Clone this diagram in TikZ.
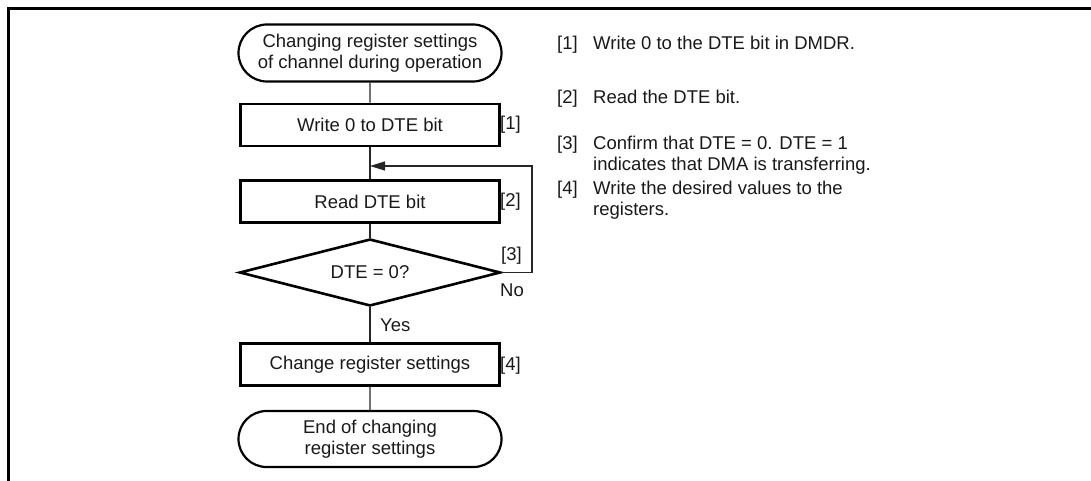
\documentclass[tikz,border=0pt]{standalone}
\usepackage{fontspec}
\setmainfont{Liberation Sans}
\usetikzlibrary{shapes.misc,shapes.geometric,arrows.meta}
\begin{document}
\begin{tikzpicture}[x=1pt,y=-1pt,
  every node/.style={font=\fontsize{18.5}{21}\selectfont, text=black!90},
  term/.style={draw, line width=2.2pt, rounded rectangle, minimum width=263pt, minimum height=57pt, align=center, inner sep=0pt},
  proc/.style={draw, line width=2.6pt, rectangle, minimum width=259pt, minimum height=42pt, inner sep=0pt},
  dec/.style={draw, line width=2.6pt, diamond, aspect=3.9, minimum width=261pt, minimum height=67pt, inner sep=0pt},
  conn/.style={line width=1.2pt, draw=black!85},
  tag/.style={anchor=west, inner sep=0pt},
  note/.style={anchor=base west, inner sep=0pt}
]
\useasboundingbox (0,0) rectangle (1091,481);
\draw[line width=3pt] (8,481) -- (8,9) -- (1091,9);

\node[term] (start) at (370,53) {Changing register settings\\of channel during operation};
\node[proc] (b1) at (370,125) {Write 0 to DTE bit};
\node[proc] (b2) at (370,201.5) {Read DTE bit};
\node[dec] (d) at (370,272.5) {DTE = 0?};
\node[proc] (b3) at (370,364.5) {Change register settings};
\node[term, minimum height=56pt] (end) at (370,439) {End of changing\\register settings};

\coordinate (j) at (370,166);
\coordinate (r1) at (532,272.5);
\coordinate (r2) at (532,166);

\draw[conn] (start) -- (b1);
\draw[conn] (b1) -- (b2);
\draw[conn] (b2) -- (d);
\draw[conn] (d) -- (b3);
\draw[conn] (b3) -- (end);
\draw[conn, -{Triangle[length=15pt,width=9pt]}] (d.east) -- (r1) -- (r2) -- (j);

\node[tag] (t1) at (500,125) {[1]};
\node[tag] (t2) at (500,201.5) {[2]};
\node[tag] (t3) at (501,256) {[3]};
\node[tag] (tno) at (500,290) {No};
\node[tag] (tyes) at (380,325) {Yes};
\node[tag] (t4) at (500,366) {[4]};

\node[note] (n1) at (557,49.5) {[1]};
\node[note] (n1t) at (593,49.5) {Write 0 to the DTE bit in DMDR.};
\node[note] (n2) at (557,103.5) {[2]};
\node[note] (n2t) at (593,103.5) {Read the DTE bit.};
\node[note] (n3) at (557,149.5) {[3]};
\node[note] (n3t) at (593,149.5) {Confirm that DTE = 0. DTE = 1};
\node[note] (n3u) at (593,170.5) {indicates that DMA is transferring.};
\node[note] (n4) at (557,194.5) {[4]};
\node[note] (n4t) at (593,194.5) {Write the desired values to the};
\node[note] (n4u) at (593,215.5) {registers.};
\end{tikzpicture}
\end{document}
